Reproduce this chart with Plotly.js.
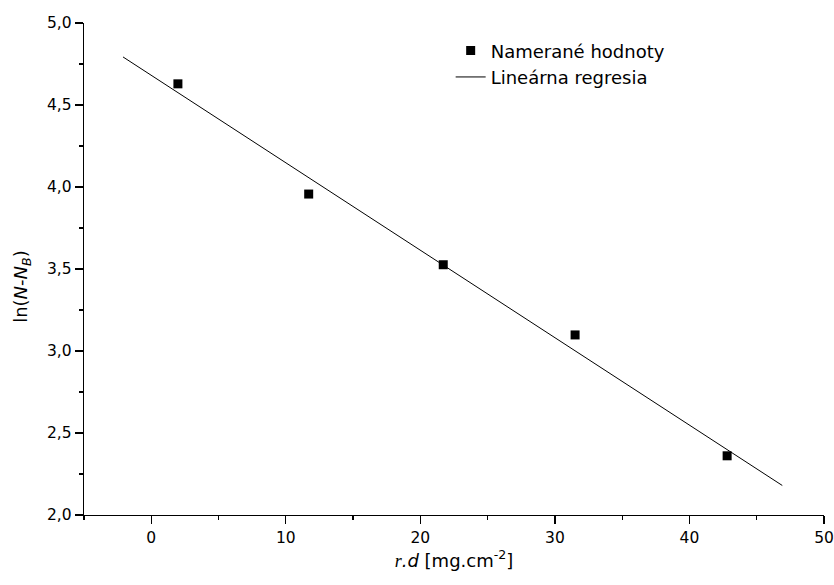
<!DOCTYPE html>
<html>
<head>
<meta charset="utf-8">
<script src="https://cdn.plot.ly/plotly-3.0.1.min.js"></script>
<style>html,body{margin:0;padding:0;background:#fff;}#chart{width:834px;height:585px;}</style>
</head>
<body>
<div id="chart"></div>
<script>
// Measured data points
const measX = [1.98, 11.7, 21.7, 31.5, 42.8];
const measY = [4.629, 3.957, 3.526, 3.098, 2.361];
// Linear regression line end points
const fitX = [-2.1, 46.9];
const fitY = [4.793, 2.18];
// Labels
const seriesNames = ["Nameran\u00e9 hodnoty", "Line\u00e1rna regresia"];
const yTitle = "ln(<i>N</i>-<i>N</i><sub><i>B</i></sub>)";
const xTitle = "<span style=\"font-family:'Liberation Serif','Times New Roman',serif\"><i>r</i></span><i>.d</i> [mg.cm<sup>-2</sup>]";

const font = {family: "DejaVu Sans, Verdana, sans-serif", color: "#000"};

const traces = [
  {
    x: measX, y: measY, type: "scatter", mode: "markers", name: seriesNames[0],
    marker: {symbol: "square", size: 9, color: "#000"}
  },
  {
    x: fitX, y: fitY, type: "scatter", mode: "lines", name: seriesNames[1],
    line: {color: "#000", width: 1}
  }
];

const layout = {
  width: 834, height: 585,
  margin: {l: 84, r: 10, t: 23, b: 70},
  paper_bgcolor: "#fff", plot_bgcolor: "#fff",
  separators: ", ",
  font: Object.assign({size: 15.5}, font),
  showlegend: true,
  legend: {
    x: 0.4955, y: 0.981, xanchor: "left", yanchor: "top",
    bgcolor: "rgba(0,0,0,0)", font: Object.assign({size: 18}, font),
    tracegroupgap: 0
  },
  xaxis: {
    range: [-5, 50], dtick: 10, tick0: 0,
    showgrid: false, zeroline: false,
    showline: true, linecolor: "#000", linewidth: 1.3,
    ticks: "outside", ticklen: 8, tickwidth: 1.3, tickcolor: "#000",
    minor: {ticks: "outside", ticklen: 4, tickwidth: 1.3, tickcolor: "#000", dtick: 5, tick0: 0, showgrid: false},
    tickfont: Object.assign({size: 15.5}, font),
    title: {
      text: xTitle,
      font: Object.assign({size: 18}, font),
      standoff: 8
    }
  },
  yaxis: {
    range: [2, 5], dtick: 0.5, tick0: 0, tickformat: ".1f",
    showgrid: false, zeroline: false,
    showline: true, linecolor: "#000", linewidth: 1.3,
    ticks: "outside", ticklen: 8, tickwidth: 1.3, tickcolor: "#000",
    minor: {ticks: "outside", ticklen: 4, tickwidth: 1.3, tickcolor: "#000", dtick: 0.25, tick0: 0, showgrid: false},
    tickfont: Object.assign({size: 15.5}, font)
  },
  annotations: [
    {
      text: yTitle, xref: "paper", yref: "paper",
      x: -0.084, y: 0.4655, xanchor: "center", yanchor: "middle",
      textangle: -90, showarrow: false,
      font: Object.assign({size: 18}, font)
    }
  ]
};

Plotly.newPlot("chart", traces, layout, {displayModeBar: false, staticPlot: true});
</script>
</body>
</html>
